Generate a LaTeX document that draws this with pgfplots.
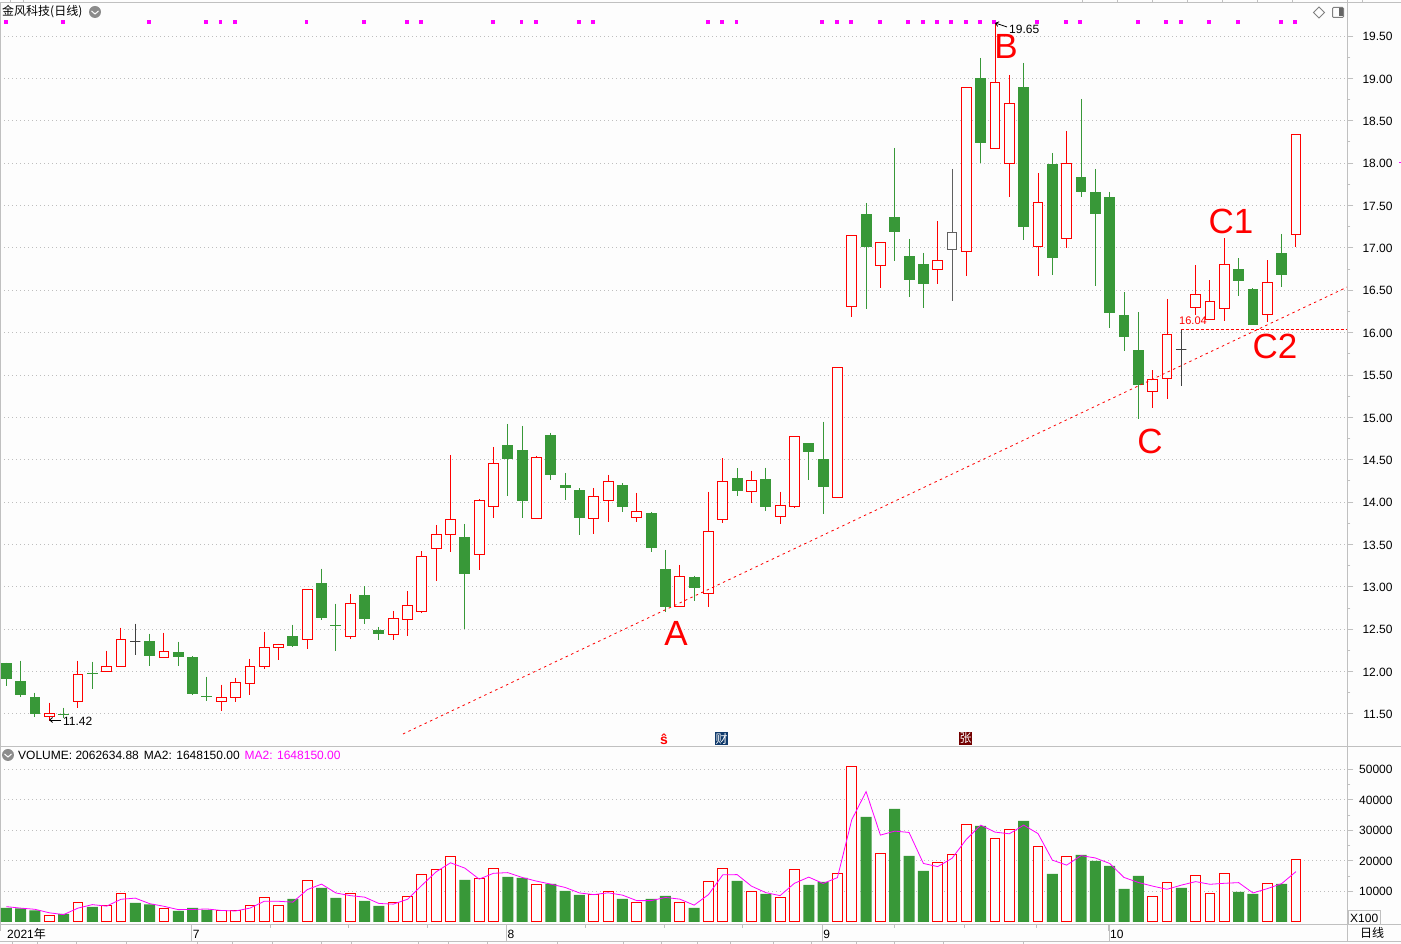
\documentclass[border=0pt]{standalone}
\usepackage{fontspec}
\usepackage{pgfplots}
\usepackage{pgfplotstable}
\usetikzlibrary{arrows.meta}
\pgfplotsset{compat=1.18}
\setmainfont{Liberation Sans}
\newfontfamily\cjk{Noto Sans CJK SC}
\definecolor{bg}{HTML}{FDFDFD}
\definecolor{cgreen}{HTML}{389838}
\definecolor{frame}{HTML}{C0C0C0}
\definecolor{grid}{HTML}{BEBEBE}
\definecolor{dojic}{HTML}{404040}
\definecolor{grayc}{HTML}{606060}
\definecolor{mag}{HTML}{FF00FF}
\newcommand\tf{\fontsize{12}{14}\selectfont}
\def\P#1#2{(#1pt,{(944-#2)*1pt})}

\pgfplotstableread{
i top bot high low
3 11.51 11.476 11.634 11.42
5 11.96 11.653 12.129 11.567
7 12.055 12.007 12.247 12.007
8 12.373 12.055 12.519 12.055
11 12.232 12.169 12.46 12.157
15 11.689 11.642 11.846 11.531
16 11.866 11.689 11.929 11.638
17 12.055 11.854 12.153 11.72
18 12.279 12.066 12.472 12.027
19 12.314 12.279 12.33 12.133
21 12.963 12.373 12.963 12.263
24 12.807 12.417 12.917 12.39
27 12.63 12.441 12.716 12.374
28 12.783 12.618 12.952 12.425
29 13.362 12.712 13.424 12.689
30 13.621 13.456 13.731 13.074
31 13.798 13.621 14.557 13.417
33 14.022 13.385 14.038 13.204
34 14.459 13.952 14.652 13.818
37 14.53 13.81 14.546 13.81
41 14.07 13.81 14.168 13.629
42 14.247 14.022 14.321 13.771
44 13.893 13.822 14.109 13.771
47 13.125 12.771 13.259 12.771
49 13.649 12.917 14.125 12.76
50 14.239 13.791 14.515 13.751
52 14.251 14.121 14.373 13.987
54 13.956 13.826 14.125 13.74
55 14.77 13.944 14.77 13.928
58 15.585 14.05 15.585 14.05
59 17.149 16.311 17.149 16.189
61 17.066 16.795 17.066 16.531
65 16.854 16.748 17.318 16.579
67 18.896 16.96 18.896 16.673
69 18.955 18.176 19.65 18.176
70 18.707 17.999 19.041 17.605
72 17.539 17.019 17.885 16.673
74 17.999 17.114 18.38 17.004
80 15.448 15.307 15.555 15.114
81 15.98 15.46 16.397 15.22
83 16.452 16.298 16.798 16.204
84 16.369 16.157 16.621 16.157
85 16.806 16.286 17.116 16.137
88 16.593 16.216 16.857 16.129
90 18.34 17.16 18.34 17.006
}\upT
\pgfplotstableread{
i top bot high low
0 12.106 11.909 12.106 11.827
1 11.893 11.72 12.129 11.697
2 11.705 11.5 11.752 11.46
4 11.504 11.484 11.575 11.45
6 11.988 11.968 12.118 11.791
10 12.365 12.18 12.448 12.063
12 12.236 12.169 12.354 12.063
13 12.177 11.732 12.184 11.72
14 11.716 11.697 11.941 11.65
20 12.424 12.299 12.554 12.287
22 13.05 12.629 13.215 12.605
23 12.554 12.535 12.802 12.24
25 12.905 12.626 13.007 12.567
26 12.492 12.449 12.528 12.374
32 13.59 13.157 13.743 12.504
35 14.675 14.51 14.923 14.077
36 14.616 14.019 14.9 13.818
38 14.793 14.325 14.817 14.266
39 14.203 14.172 14.345 14.03
40 14.144 13.818 14.164 13.617
43 14.203 13.948 14.223 13.889
45 13.873 13.464 13.881 13.417
46 13.212 12.768 13.436 12.708
48 13.122 12.984 13.134 12.831
51 14.29 14.129 14.397 14.07
53 14.267 13.94 14.408 13.893
56 14.692 14.589 14.692 14.259
57 14.503 14.176 14.951 13.858
60 17.401 17.015 17.531 16.284
62 17.365 17.192 18.18 16.85
63 16.905 16.626 17.106 16.425
64 16.811 16.579 16.941 16.295
68 19.006 18.243 19.242 18.003
71 18.9 17.251 19.183 17.098
73 17.991 16.885 18.121 16.685
75 17.838 17.664 18.758 17.605
76 17.66 17.405 17.932 16.555
77 17.601 16.236 17.66 16.059
78 16.208 15.952 16.479 15.787
79 15.795 15.386 16.243 14.976
86 16.751 16.613 16.88 16.436
87 16.515 16.09 16.522 16.09
89 16.939 16.684 17.164 16.542
}\downT
\pgfplotstableread{
i top bot high low
9 12.361 12.361 12.566 12.192
82 15.806 15.806 16.039 15.374
}\dojiT
\pgfplotstableread{
i top bot high low
66 17.184 16.984 17.932 16.378
}\grayT
\pgfplotstableread{
i y
0 19.673
4 19.673
10 19.673
14 19.673
15 19.673
16 19.673
21 19.673
25 19.673
28 19.673
29 19.673
34 19.673
36 19.673
37 19.673
40 19.673
41 19.673
49 19.673
50 19.673
51 19.673
57 19.673
58 19.673
59 19.673
61 19.673
63 19.673
64 19.673
65 19.673
66 19.673
67 19.673
68 19.673
69 19.673
72 19.673
74 19.673
75 19.673
79 19.673
81 19.673
82 19.673
84 19.673
86 19.673
89 19.673
90 19.673
}\dotsT
\pgfplotstableread{
i v
3 2131
5 6394
7 5410
8 9345
11 4427
15 3552
16 3552
17 5410
18 8033
19 5410
21 13608
24 9345
27 6394
28 8361
29 15575
30 17215
31 21477
33 14264
34 17543
37 12296
41 9017
42 10001
44 6394
47 6394
49 13280
50 17543
52 10001
54 8033
55 17215
58 15903
59 50988
61 22461
65 19510
66 22133
67 31970
69 27379
70 30331
72 24756
74 21477
80 8361
81 12952
83 15247
84 9345
85 15903
88 12624
90 20494
}\volUp
\pgfplotstableread{
i v
0 4536
1 4427
2 3771
4 2569
6 4864
9 6175
10 5738
12 3552
13 4536
14 3880
20 7487
22 11094
23 7815
25 6831
26 5192
32 13717
35 14701
36 14373
38 12405
39 10110
40 8799
43 7487
45 7487
46 8471
48 4536
51 13389
53 9127
56 12078
57 13061
60 34375
62 36999
63 21586
64 16668
68 31424
71 33063
73 15684
75 21914
76 19947
77 18307
78 10766
79 15028
82 11094
86 9782
87 9127
89 12405
}\volDown
\pgfplotstableread{
i v
0 4970
1 4482
2 4099
3 2951
4 2350
5 4482
6 5629
7 5137
8 7378
9 7760
10 5957
11 5083
12 3990
13 4044
14 4208
15 3716
16 3552
17 4481
18 6722
19 6722
20 6449
21 10548
22 12351
23 9455
24 8580
25 8088
26 6012
27 5793
28 7378
29 11968
30 16395
31 19346
32 17597
33 13991
34 15904
35 16122
36 14537
37 13335
38 12351
39 11258
40 9455
41 8908
42 9509
43 8744
44 6941
45 6941
46 7979
47 7433
48 5465
49 8908
50 15412
51 15466
52 11695
53 9564
54 8580
55 12624
56 14647
57 12570
58 14482
59 33446
60 42682
61 28418
62 29730
63 29293
64 19127
65 18089
66 20822
67 27052
68 31697
69 29402
70 28855
71 31697
72 28910
73 20220
74 18581
75 21696
76 20931
77 19127
78 14537
79 12897
80 11695
81 10657
82 12023
83 13171
84 12296
85 12624
86 12843
87 9455
88 10876
89 12515
90 16450
}\volMA

% #1 table, #2 colour, #3 fill, #4 half width, #5 body line colour
\newcommand\candles[5]{%
  \pgfplotstablegetrowsof{#1}\pgfmathtruncatemacro\lastrow{\pgfplotsretval-1}%
  \pgfplotsforeachungrouped \r in {0,...,\lastrow}{%
    \pgfplotstablegetelem{\r}{i}\of{#1}\let\ci\pgfplotsretval
    \pgfplotstablegetelem{\r}{top}\of{#1}\let\ct\pgfplotsretval
    \pgfplotstablegetelem{\r}{bot}\of{#1}\let\cb\pgfplotsretval
    \pgfplotstablegetelem{\r}{high}\of{#1}\let\ch\pgfplotsretval
    \pgfplotstablegetelem{\r}{low}\of{#1}\let\cl\pgfplotsretval
    \pgfmathsetmacro\xl{\ci-#4}\pgfmathsetmacro\xr{\ci+#4}%
    \addplot[draw=#2,line width=1pt,forget plot] coordinates {(\ci,\ch)(\ci,\cl)};
    \addplot[draw=#5,fill=#3,line width=1pt,forget plot] coordinates {(\xl,\ct)(\xr,\ct)(\xr,\cb)(\xl,\cb)} --cycle;
  }%
}

\begin{document}
\begin{tikzpicture}[every node/.style={font=\tf,inner sep=0pt}]
\path[use as bounding box,fill=bg] (0pt,0pt) rectangle (1401pt,944pt);

\begin{axis}[
  at={(0pt,197.3pt)},anchor=south west,scale only axis,
  width=1347.3pt,height=744.4pt,
  xmin=-0.44,xmax=93.58,ymin=11.114,ymax=19.898,
  xtick=\empty,
  ytick={11.5,12,...,19.5},minor y tick num=1,
  ytick pos=right,yticklabel pos=right,
  tick align=outside,major tick length=6pt,minor tick length=3pt,
  tick style={color=frame,line width=1pt},
  axis line style={color=frame,line width=1pt},
  ymajorgrids,
  grid style={color=grid,line width=1pt,dash pattern=on 1pt off 3pt},
  yticklabel style={/pgf/number format/fixed,/pgf/number format/fixed zerofill,/pgf/number format/precision=2,/pgf/number format/assume math mode=true,font=\tf,anchor=east,xshift=39.5pt,yshift=-0.5pt},
  scaled y ticks=false,
]
\candles{\upT}{red}{bg}{0.342}{red}
\candles{\downT}{cgreen}{cgreen}{0.38}{none}
\candles{\dojiT}{dojic}{none}{0.36}{dojic}
\candles{\grayT}{grayc}{bg}{0.342}{grayc}
\addplot[only marks,mark=square*,mark size=1.4pt,color=mag,forget plot] table[x expr=\thisrow{i}-0.07,y=y] {\dotsT};
\addplot[red,line width=0.8pt,dash pattern=on 2.5pt off 3.5pt,forget plot] coordinates {(27.68,11.264)(93.58,16.538)};
\addplot[red,line width=0.8pt,dash pattern=on 3pt off 2pt,forget plot] coordinates {(81.95,16.04)(93.58,16.04)};
\end{axis}

\begin{axis}[
  at={(0pt,19pt)},anchor=south west,scale only axis,
  width=1347.3pt,height=178.3pt,
  xmin=-0.44,xmax=93.58,ymin=-1049,ymax=57410,
  xtick={-0.44,12.94,34.9,56.94,76.95},
  xticklabels={\hspace*{6pt}2021{\cjk 年},7,8,9,10},
  minor xtick={18.47,23.9,29.36,40.4,45.9,51.4,61.96,66.9,71.9},
  xtick pos=bottom,
  x tick label style={font=\tf,anchor=west,xshift=1pt,yshift=-3pt},
  ytick={10000,20000,30000,40000,50000},minor y tick num=1,
  ytick pos=right,yticklabel pos=right,
  tick align=outside,major tick length=6pt,minor tick length=3pt,
  tick style={color=frame,line width=1pt},
  axis line style={color=frame,line width=1pt},
  ymajorgrids,
  grid style={color=grid,line width=1pt,dash pattern=on 1pt off 3pt},
  yticklabel style={/pgf/number format/fixed,/pgf/number format/1000 sep={},/pgf/number format/assume math mode=true,font=\tf,anchor=east,xshift=39.5pt,yshift=-0.5pt},
  scaled y ticks=false,
]
\addplot[ybar,bar shift=0pt,bar width=9.8pt,draw=red,fill=bg,line width=1pt,forget plot] table[x=i,y=v] {\volUp};
\addplot[ybar,bar shift=0pt,bar width=11pt,draw=none,fill=cgreen,forget plot] table[x=i,y=v] {\volDown};
\addplot[mag,line width=0.8pt,forget plot] table[x=i,y=v] {\volMA};
\end{axis}

% frame lines reaching the right edge
\draw[frame,line width=1pt] \P{0}{2.3} -- \P{1401}{2.3};
\draw[frame,line width=1pt] \P{0}{746.7} -- \P{1401}{746.7};
\draw[frame,line width=1pt] \P{0}{925} -- \P{1401}{925};
\draw[frame,line width=1pt] \P{0}{941.7} -- \P{1401}{941.7};
\draw[frame,line width=1.5pt] \P{1347.3}{0} -- \P{1347.3}{941.7};
\foreach \x in {10,23,1082,1117,1152,1187,1222,1257,1292,1362}{\draw[frame,line width=1pt] \P{\x}{0} -- \P{\x}{2.3};}
\foreach \x in {191.7,506.3,822.3,1109}{\draw[frame,line width=1pt] \P{\x}{925} -- \P{\x}{941.7};}
\foreach \x in {12,37,76,126,197,232,272,321,351,418,448,487,557,623,661,697,730,773,811,856,894,943,1023}{\draw[frame,line width=1pt] \P{\x}{941.7} -- \P{\x}{944};}

% top header
\node[anchor=west,font=\cjk\fontsize{12}{14}\selectfont] at \P{2}{12} {金风科技(日线)};
\fill[gray!90] \P{95}{12} circle (6pt);
\draw[white,line width=1pt] \P{91.5}{11} -- \P{95}{14} -- \P{98.5}{11};
\draw[gray,line width=0.8pt] \P{1319}{7} -- \P{1324.5}{12.5} -- \P{1319}{18} -- \P{1313.5}{12.5} -- cycle;
\draw[gray,line width=1pt,rounded corners=1pt] \P{1332.5}{7.5} rectangle \P{1343.5}{17.5};
\fill[gray!80!black] \P{1338.5}{8.5} rectangle \P{1342.5}{16.5};
\fill[mag] \P{1399}{162} rectangle \P{1401}{163};

% volume header
\fill[gray!90] \P{8}{755} circle (6pt);
\draw[white,line width=1pt] \P{4.5}{754} -- \P{8}{757} -- \P{11.5}{754};
\node[anchor=west] at \P{18}{755} {VOLUME: 2062634.88\hspace{5pt}MA2: 1648150.00};
\node[anchor=west,text=mag] at \P{244.5}{755} {MA2: 1648150.00};

% annotations
\node[anchor=west] at \P{63}{721} {11.42};
\draw[black,line width=0.8pt,-{Straight Barb[length=3pt,width=5pt]}] \P{61}{720} -- \P{49}{720};
\node[anchor=west] at \P{1009}{29} {19.65};
\draw[black,line width=0.8pt,-{Straight Barb[length=3pt,width=5pt]}] \P{1007}{27} -- \P{995}{23};
\node[anchor=west,text=red,font=\fontsize{11}{13}\selectfont] at \P{1179}{320.5} {16.04};
\foreach \t/\x/\y in {A/676/633,B/1006/46,C/1150/441,C1/1231/221,C2/1275/346}{
  \node[text=red,font=\fontsize{35}{38}\selectfont] at \P{\x}{\y} {\t};
}

% event icons
\node[text=red,font=\bfseries\fontsize{14}{14}\selectfont] at \P{664}{739} {ŝ};
\definecolor{caiblue}{HTML}{103A6B}
\fill[caiblue] \P{715}{732} rectangle \P{728}{745};
\node[text=white,font=\cjk\fontsize{12}{12}\selectfont] at \P{721.5}{738.5} {财};
\fill[red!45!black] \P{959}{732} rectangle \P{972}{745};
\node[text=white,font=\cjk\fontsize{12}{12}\selectfont] at \P{965.5}{738.5} {张};

% right bottom
\draw[frame,line width=1pt] \P{1348}{925} -- \P{1348}{910.7} -- \P{1380.7}{910.7} -- \P{1380.7}{925};
\node[anchor=west] at \P{1350}{918} {X100};
\node[anchor=west,font=\cjk\fontsize{12}{14}\selectfont] at \P{1360}{933} {日线};
\end{tikzpicture}
\end{document}
